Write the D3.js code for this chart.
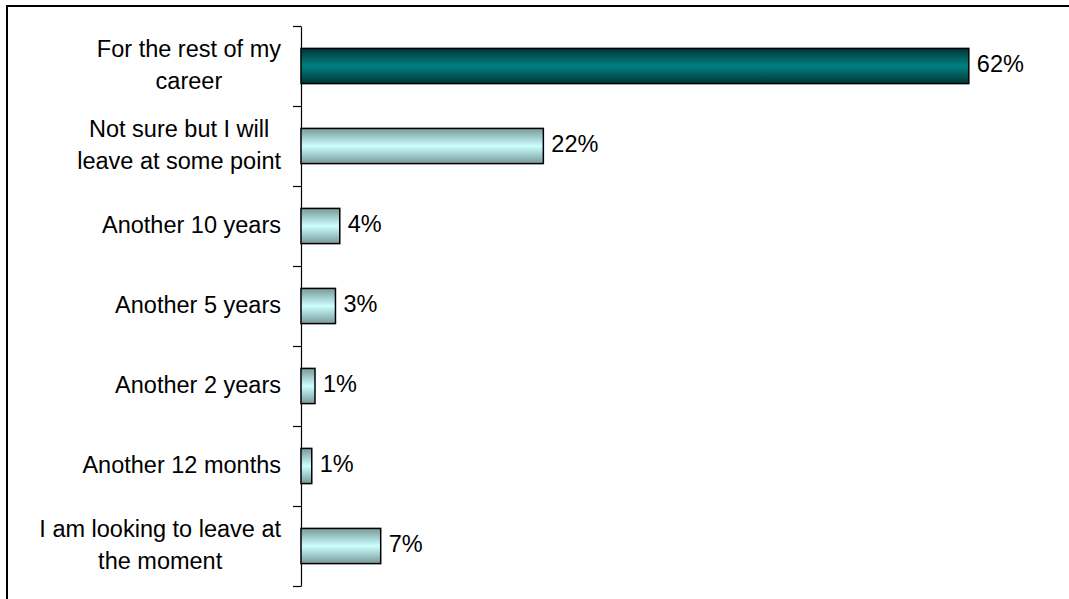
<!DOCTYPE html>
<html>
<head>
<meta charset="utf-8">
<script src="https://cdn.jsdelivr.net/npm/d3@7"></script>
<style>
  body { margin: 0; background: #fff; }
  text { font-family: "Liberation Sans", Arial, sans-serif; fill: #000; }
</style>
</head>
<body>
<svg id="chart"></svg>
<script>
const categories = [
  ['For the rest of my', 'career'],
  ['Not sure but I will', 'leave at some point'],
  ['Another 10 years'],
  ['Another 5 years'],
  ['Another 2 years'],
  ['Another 12 months'],
  ['I am looking to leave at', 'the moment']
];
const values = [62, 22.5, 3.6, 3.2, 1.3, 1.0, 7.4];
const valueLabels = ['62%', '22%', '4%', '3%', '1%', '1%', '7%'];
const highlight = [true, false, false, false, false, false, false];

const width = 1069;
const height = 599;
const plot = { left: 301, right: 1055, top: 26, bottom: 586 };
const fontSize = 23.5;

const svg = d3.select('#chart')
  .attr('width', width)
  .attr('height', height);

// gradients (dark at edges, light through the middle)
const defs = svg.append('defs');
const gradients = [
  { id: 'gDark', edge: '#003636', mid: '#008080' },
  { id: 'gLight', edge: '#789898', mid: '#ccffff' }
];
gradients.forEach((g) => {
  const lg = defs.append('linearGradient')
    .attr('id', g.id)
    .attr('x1', 0).attr('y1', 0).attr('x2', 0).attr('y2', 1);
  lg.append('stop').attr('offset', '0%').attr('stop-color', g.edge);
  lg.append('stop').attr('offset', '50%').attr('stop-color', g.mid);
  lg.append('stop').attr('offset', '100%').attr('stop-color', g.edge);
});

// outer frame
svg.append('rect')
  .attr('x', 7)
  .attr('y', 6)
  .attr('width', width + 20)
  .attr('height', height + 20)
  .attr('fill', 'none')
  .attr('stroke', '#000')
  .attr('stroke-width', 2);

const x = d3.scaleLinear()
  .domain([0, 70])
  .range([plot.left, plot.right]);

const y = d3.scaleBand()
  .domain(d3.range(categories.length))
  .range([plot.top, plot.bottom])
  .paddingInner(0.56)
  .paddingOuter(0.28);

// axis with ticks on category boundaries
const yEdge = d3.scaleLinear()
  .domain([0, categories.length])
  .range([plot.top, plot.bottom]);

svg.append('g')
  .attr('transform', `translate(${plot.left},0)`)
  .call(d3.axisLeft(yEdge)
    .tickValues(d3.range(categories.length + 1))
    .tickFormat('')
    .tickSize(8)
    .tickSizeOuter(0))
  .call((g) => g.selectAll('path, line').attr('stroke', '#000').attr('stroke-width', 1.2));

// bars
svg.selectAll('.bar')
  .data(values)
  .enter().append('rect')
  .attr('class', 'bar')
  .attr('x', x(0))
  .attr('y', (d, i) => y(i))
  .attr('width', (d) => x(d) - x(0))
  .attr('height', y.bandwidth())
  .attr('fill', (d, i) => highlight[i] ? 'url(#gDark)' : 'url(#gLight)')
  .attr('stroke', '#000')
  .attr('stroke-width', 1.5);

// value labels
svg.selectAll('.val')
  .data(values)
  .enter().append('text')
  .attr('class', 'val')
  .attr('x', (d) => x(d) + 8)
  .attr('y', (d, i) => y(i) + y.bandwidth() / 2 + 6)
  .style('font-size', fontSize + 'px')
  .text((d, i) => valueLabels[i]);

// category labels: block right aligned, lines centred within block
const labelRight = 281;
const lineGap = 32;
const catG = svg.selectAll('.cat')
  .data(categories)
  .enter().append('text')
  .attr('class', 'cat')
  .style('font-size', fontSize + 'px')
  .attr('text-anchor', 'middle');

catG.each(function (lines, i) {
  const t = d3.select(this);
  const cy = y(i) + y.bandwidth() / 2;
  const first = cy + 7 - (lines.length - 1) * lineGap / 2;
  lines.forEach((ln, j) => {
    t.append('tspan')
      .attr('y', first + j * lineGap)
      .text(ln);
  });
  let maxW = 0;
  t.selectAll('tspan').each(function () {
    maxW = Math.max(maxW, this.getComputedTextLength());
  });
  t.selectAll('tspan').attr('x', labelRight - maxW / 2);
});
</script>
</body>
</html>
